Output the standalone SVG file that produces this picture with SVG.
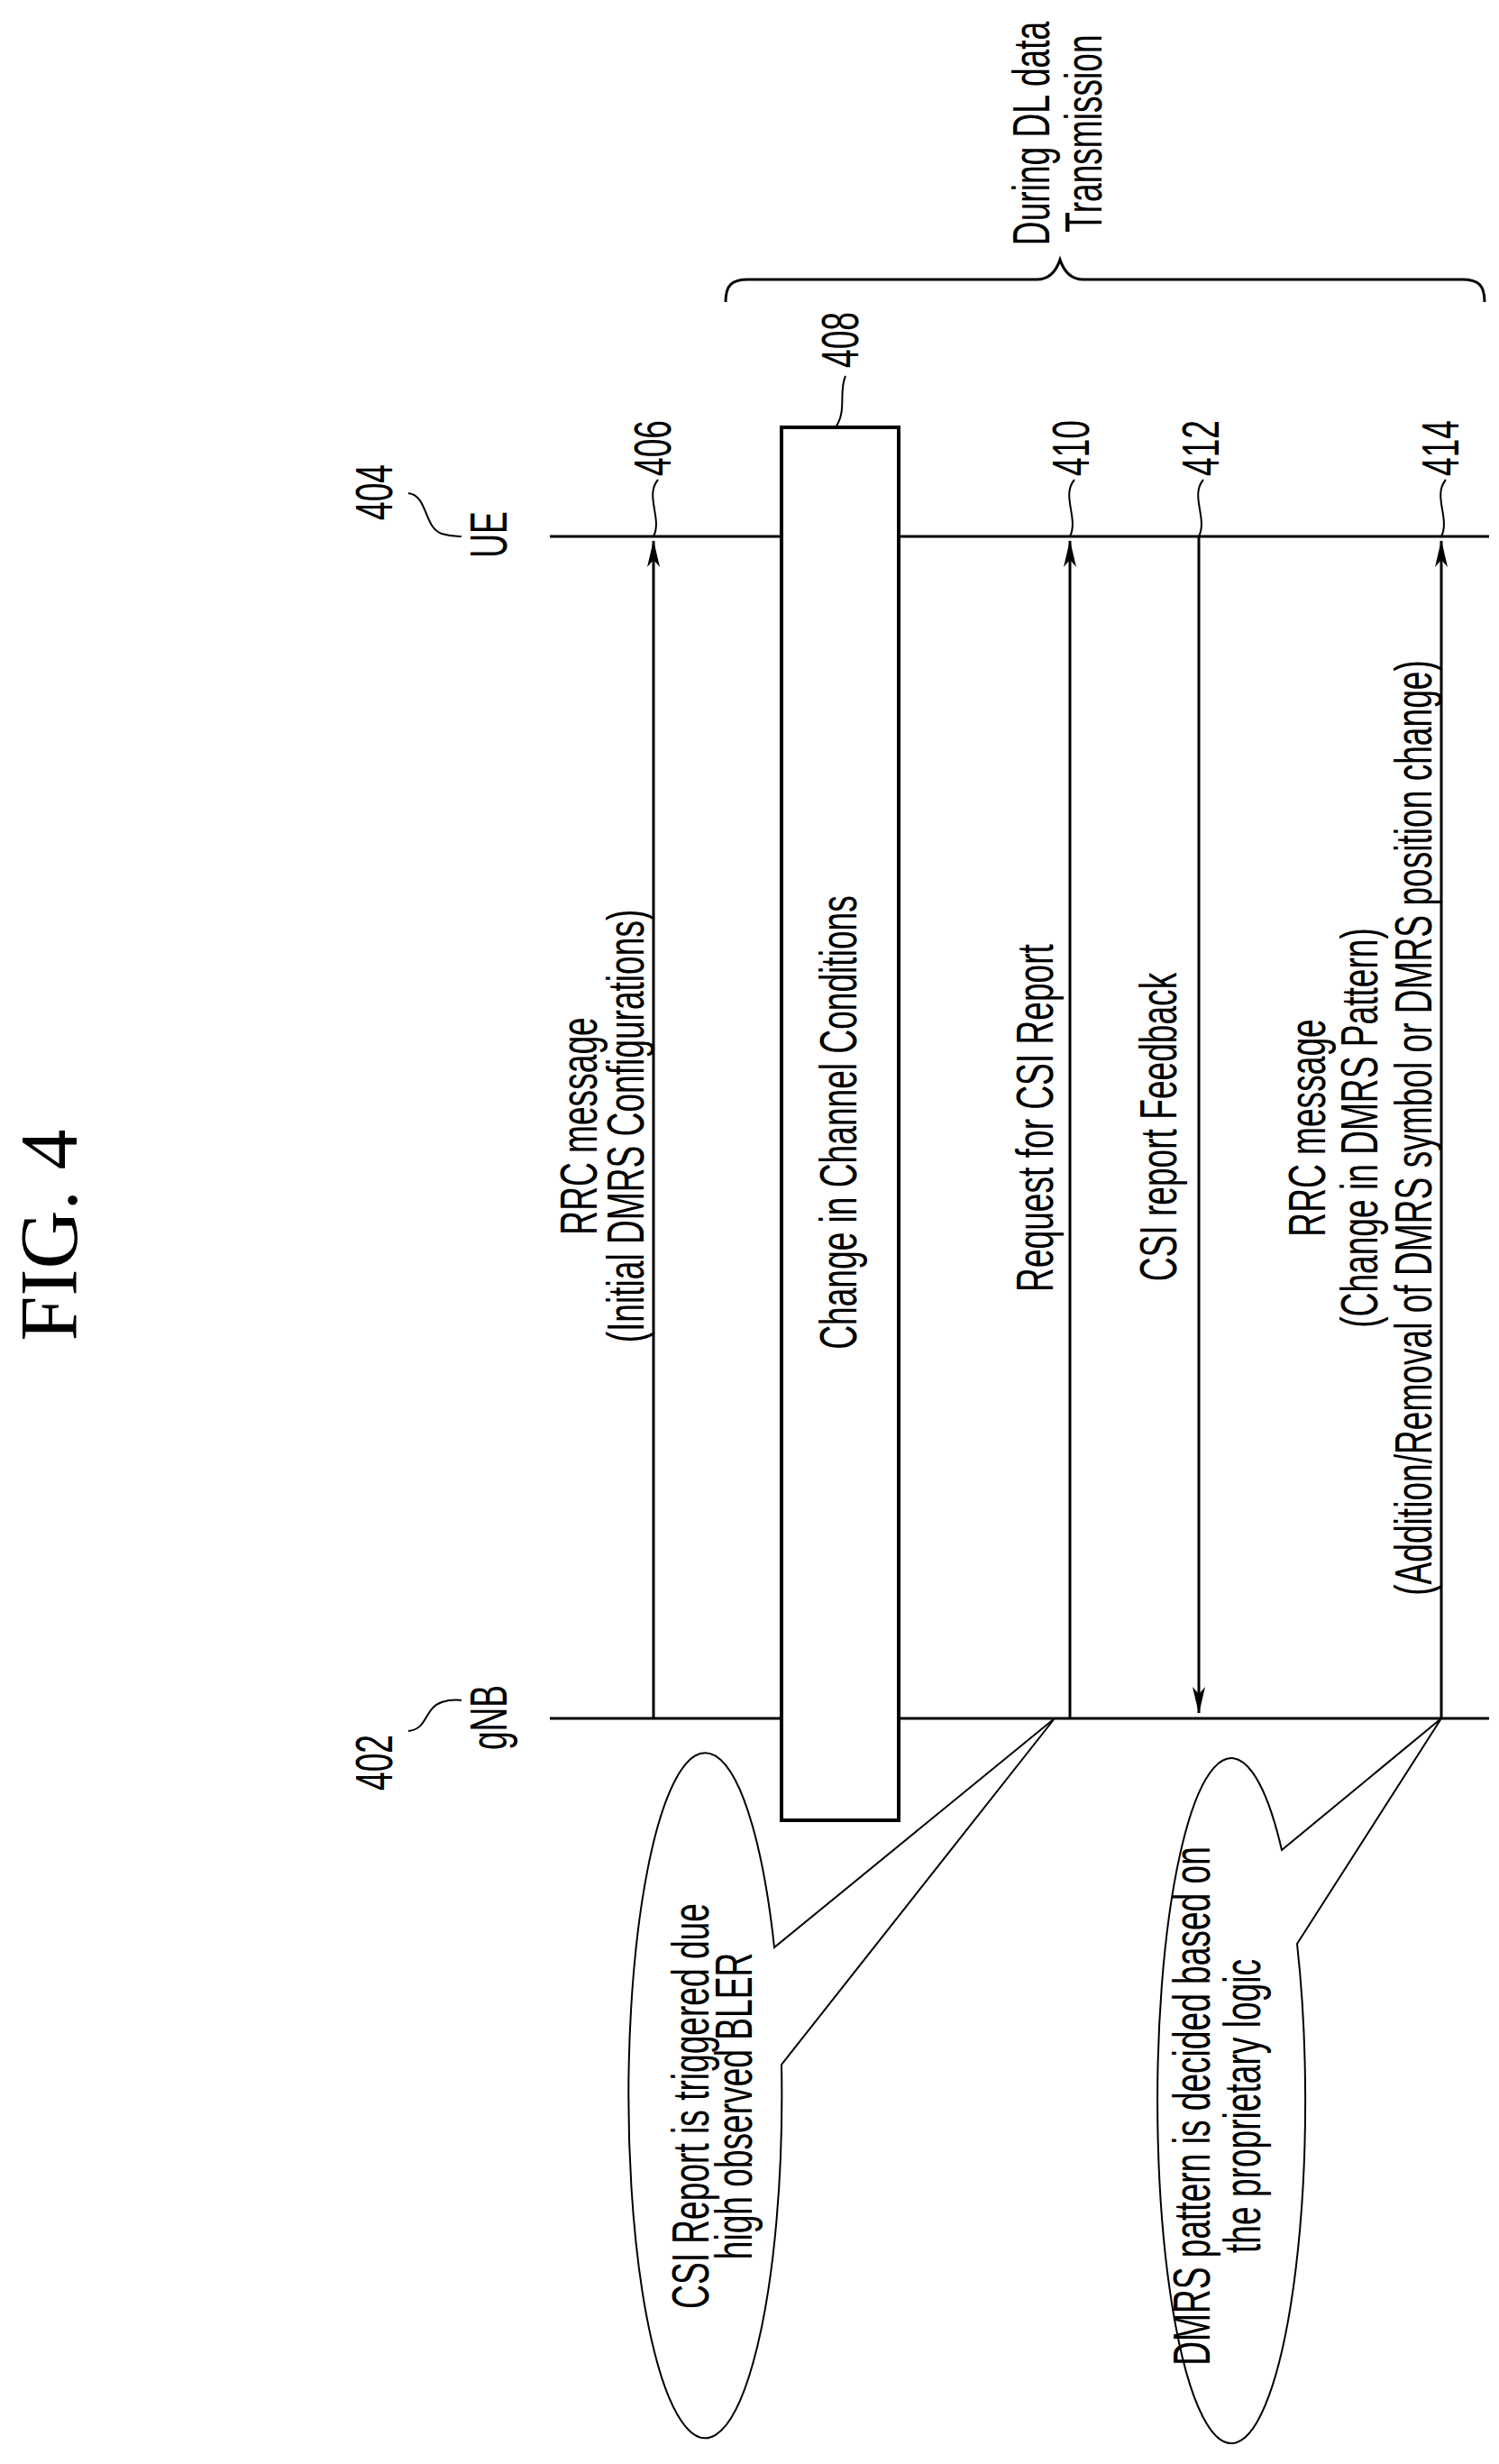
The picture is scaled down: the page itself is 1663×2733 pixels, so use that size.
<svg xmlns="http://www.w3.org/2000/svg" width="1663" height="2733" viewBox="0 0 1663 2733">
<defs>
<style>
.t{font-family:"Liberation Sans",Arial,sans-serif;font-size:58px;fill:#000;text-anchor:middle}
.n{font-family:"Liberation Sans",Arial,sans-serif;font-size:58px;fill:#000;text-anchor:middle}
.ln{stroke:#000;stroke-width:3;fill:none}
.lead{stroke:#000;stroke-width:2;fill:none}
</style>
<marker id="ah" viewBox="0 0 30 14" refX="29" refY="7" markerWidth="30" markerHeight="14" markerUnits="userSpaceOnUse" orient="auto">
<path d="M0,0 L30,7 L0,14 L8,7 Z" fill="#000"/>
</marker>
</defs>
<rect width="1663" height="2733" fill="#fff"/>
<text transform="translate(85,1370) rotate(-90)" style="font-family:'Liberation Serif','Times New Roman',serif;font-size:90px;text-anchor:middle">FIG. 4</text>

<g id="brace">
<path class="ln" d="M805,335 C805,316 812,310 830,310 L1150,310 C1165,310 1172,300 1176,288 C1180,300 1187,310 1202,310 L1622,310 C1640,310 1647,316 1647,335"/>
<text class="t" transform="translate(1164,148) rotate(-90) scale(0.64,1)">During DL data</text>
<text class="t" transform="translate(1222,148) rotate(-90) scale(0.64,1)">Transmission</text>
</g>

<g id="ue">
<line class="ln" x1="610" y1="595" x2="1652" y2="595"/>
<text class="n" transform="translate(435,546) rotate(-90) scale(0.64,1)">404</text>
<text class="n" transform="translate(562,593) rotate(-90) scale(0.64,1)">UE</text>
<path class="lead" d="M453,547 C475,550 470,585 490,592 C500,595 505,595 512,595"/>
</g>

<g id="gnb">
<line class="ln" x1="610" y1="1906" x2="1652" y2="1906"/>
<text class="n" transform="translate(435,1955) rotate(-90) scale(0.64,1)">402</text>
<text class="n" transform="translate(562,1905) rotate(-90) scale(0.64,1)">gNB</text>
<path class="lead" d="M453,1920 C475,1918 470,1895 490,1888 C500,1885 505,1885 512,1886"/>
</g>

<g id="box408">
<rect x="867" y="474" width="130" height="1545" fill="#fff" stroke="#000" stroke-width="4"/>
<text class="t" transform="translate(950,1245) rotate(-90) scale(0.64,1)">Change in Channel Conditions</text>
<text class="n" transform="translate(952,377) rotate(-90) scale(0.64,1)">408</text>
<path class="lead" d="M938,417 C930,435 940,455 927,474"/>
</g>

<g id="connectors">
<line class="ln" x1="725" y1="1906" x2="725" y2="600" marker-end="url(#ah)"/>
<line class="ln" x1="1187" y1="1906" x2="1187" y2="600" marker-end="url(#ah)"/>
<line class="ln" x1="1330" y1="595" x2="1330" y2="1900" marker-end="url(#ah)"/>
<line class="ln" x1="1599" y1="1906" x2="1599" y2="600" marker-end="url(#ah)"/>
<path class="lead" d="M730,532 C715,550 735,575 725,595"/>
<path class="lead" d="M1192,532 C1177,550 1197,575 1187,595"/>
<path class="lead" d="M1335,532 C1320,550 1340,575 1330,595"/>
<path class="lead" d="M1604,532 C1589,550 1609,575 1599,595"/>
</g>

<g id="labels">
<text class="n" transform="translate(744,497) rotate(-90) scale(0.64,1)">406</text>
<text class="n" transform="translate(1208,497) rotate(-90) scale(0.64,1)">410</text>
<text class="n" transform="translate(1352,497) rotate(-90) scale(0.64,1)">412</text>
<text class="n" transform="translate(1618,497) rotate(-90) scale(0.64,1)">414</text>
</g>

<g id="msg406">
<text class="t" transform="translate(662,1249) rotate(-90) scale(0.64,1)">RRC message</text>
<text class="t" transform="translate(714,1249) rotate(-90) scale(0.64,1)">(Initial DMRS Configurations)</text>
</g>
<g id="msg410">
<text class="t" transform="translate(1168,1240) rotate(-90) scale(0.64,1)">Request for CSI Report</text>
</g>
<g id="msg412">
<text class="t" transform="translate(1305,1250) rotate(-90) scale(0.64,1)">CSI report Feedback</text>
</g>
<g id="msg414">
<text class="t" transform="translate(1470,1251) rotate(-90) scale(0.64,1)">RRC message</text>
<text class="t" transform="translate(1528,1251) rotate(-90) scale(0.64,1)">(Change in DMRS Pattern)</text>
<text class="t" transform="translate(1588,1251) rotate(-90) scale(0.64,1)">(Addition/Removal of DMRS symbol or DMRS position change)</text>
</g>

<g id="callout1">
<path class="lead" fill="#fff" d="M867,2290 L1170,1906 L859,2160 A85,380 0 1 0 867,2290 Z"/>
<text class="t" transform="translate(786,2336) rotate(-90) scale(0.64,1)">CSI Report is triggered due</text>
<text class="t" transform="translate(834,2336) rotate(-90) scale(0.64,1)">high observed BLER</text>
</g>
<g id="callout2">
<path class="lead" fill="#fff" d="M1439,2156 L1599,1906 L1422,2052 A82,380 0 1 0 1439,2156 Z"/>
<text class="t" transform="translate(1342,2336) rotate(-90) scale(0.64,1)">DMRS pattern is decided based on</text>
<text class="t" transform="translate(1398,2336) rotate(-90) scale(0.64,1)">the proprietary logic</text>
</g>
</svg>
